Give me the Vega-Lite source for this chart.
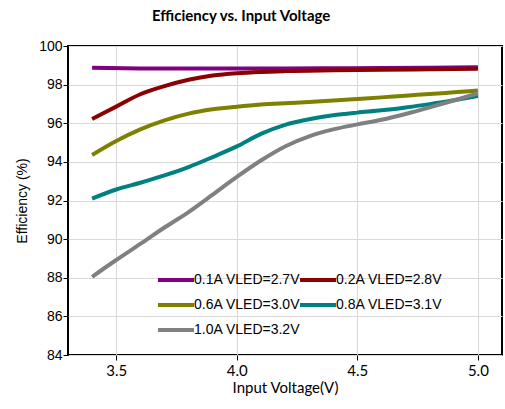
{
  "$schema": "https://vega.github.io/schema/vega-lite/v6.json",
  "width": 434,
  "height": 309,
  "autosize": {"type": "none"},
  "padding": {"left": 68, "top": 46, "right": 3, "bottom": 54},
  "background": "white",
  "title": {"text": "Efficiency vs. Input Voltage", "font": "Lato", "fontSize": 15, "fontWeight": "bold", "color": "black", "anchor": "start", "frame": "group", "dx": 84, "offset": 15},
  "config": {
    "view": {"stroke": "black", "strokeWidth": 2},
    "axis": {"domain": false, "gridColor": "#d9d9d9", "gridWidth": 1, "tickColor": "black", "tickSize": 5, "labelColor": "black", "titleColor": "black", "titleFontWeight": "normal"}
  },
  "data": {"values": [
    {"v": 3.4, "e": 98.87, "s": "0.1A VLED=2.7V"},
    {"v": 3.6, "e": 98.84, "s": "0.1A VLED=2.7V"},
    {"v": 3.8, "e": 98.83, "s": "0.1A VLED=2.7V"},
    {"v": 4.0, "e": 98.83, "s": "0.1A VLED=2.7V"},
    {"v": 4.2, "e": 98.84, "s": "0.1A VLED=2.7V"},
    {"v": 4.4, "e": 98.85, "s": "0.1A VLED=2.7V"},
    {"v": 4.6, "e": 98.86, "s": "0.1A VLED=2.7V"},
    {"v": 4.8, "e": 98.88, "s": "0.1A VLED=2.7V"},
    {"v": 5.0, "e": 98.9, "s": "0.1A VLED=2.7V"},
    {"v": 3.4, "e": 96.22, "s": "0.2A VLED=2.8V"},
    {"v": 3.5, "e": 96.86, "s": "0.2A VLED=2.8V"},
    {"v": 3.6, "e": 97.5, "s": "0.2A VLED=2.8V"},
    {"v": 3.7, "e": 97.92, "s": "0.2A VLED=2.8V"},
    {"v": 3.8, "e": 98.25, "s": "0.2A VLED=2.8V"},
    {"v": 3.9, "e": 98.47, "s": "0.2A VLED=2.8V"},
    {"v": 4.0, "e": 98.59, "s": "0.2A VLED=2.8V"},
    {"v": 4.1, "e": 98.66, "s": "0.2A VLED=2.8V"},
    {"v": 4.2, "e": 98.7, "s": "0.2A VLED=2.8V"},
    {"v": 4.4, "e": 98.74, "s": "0.2A VLED=2.8V"},
    {"v": 4.6, "e": 98.77, "s": "0.2A VLED=2.8V"},
    {"v": 4.8, "e": 98.79, "s": "0.2A VLED=2.8V"},
    {"v": 5.0, "e": 98.82, "s": "0.2A VLED=2.8V"},
    {"v": 3.4, "e": 94.36, "s": "0.6A VLED=3.0V"},
    {"v": 3.5, "e": 95.08, "s": "0.6A VLED=3.0V"},
    {"v": 3.6, "e": 95.68, "s": "0.6A VLED=3.0V"},
    {"v": 3.7, "e": 96.15, "s": "0.6A VLED=3.0V"},
    {"v": 3.8, "e": 96.5, "s": "0.6A VLED=3.0V"},
    {"v": 3.9, "e": 96.72, "s": "0.6A VLED=3.0V"},
    {"v": 4.0, "e": 96.86, "s": "0.6A VLED=3.0V"},
    {"v": 4.1, "e": 96.97, "s": "0.6A VLED=3.0V"},
    {"v": 4.2, "e": 97.04, "s": "0.6A VLED=3.0V"},
    {"v": 4.3, "e": 97.1, "s": "0.6A VLED=3.0V"},
    {"v": 4.4, "e": 97.18, "s": "0.6A VLED=3.0V"},
    {"v": 4.5, "e": 97.26, "s": "0.6A VLED=3.0V"},
    {"v": 4.6, "e": 97.34, "s": "0.6A VLED=3.0V"},
    {"v": 4.7, "e": 97.43, "s": "0.6A VLED=3.0V"},
    {"v": 4.8, "e": 97.51, "s": "0.6A VLED=3.0V"},
    {"v": 4.9, "e": 97.6, "s": "0.6A VLED=3.0V"},
    {"v": 5.0, "e": 97.69, "s": "0.6A VLED=3.0V"},
    {"v": 3.4, "e": 92.1, "s": "0.8A VLED=3.1V"},
    {"v": 3.5, "e": 92.57, "s": "0.8A VLED=3.1V"},
    {"v": 3.6, "e": 92.92, "s": "0.8A VLED=3.1V"},
    {"v": 3.7, "e": 93.3, "s": "0.8A VLED=3.1V"},
    {"v": 3.8, "e": 93.73, "s": "0.8A VLED=3.1V"},
    {"v": 3.9, "e": 94.25, "s": "0.8A VLED=3.1V"},
    {"v": 4.0, "e": 94.8, "s": "0.8A VLED=3.1V"},
    {"v": 4.1, "e": 95.45, "s": "0.8A VLED=3.1V"},
    {"v": 4.2, "e": 95.92, "s": "0.8A VLED=3.1V"},
    {"v": 4.3, "e": 96.21, "s": "0.8A VLED=3.1V"},
    {"v": 4.4, "e": 96.41, "s": "0.8A VLED=3.1V"},
    {"v": 4.5, "e": 96.55, "s": "0.8A VLED=3.1V"},
    {"v": 4.6, "e": 96.67, "s": "0.8A VLED=3.1V"},
    {"v": 4.7, "e": 96.82, "s": "0.8A VLED=3.1V"},
    {"v": 4.8, "e": 96.99, "s": "0.8A VLED=3.1V"},
    {"v": 4.9, "e": 97.19, "s": "0.8A VLED=3.1V"},
    {"v": 5.0, "e": 97.41, "s": "0.8A VLED=3.1V"},
    {"v": 3.4, "e": 88.05, "s": "1.0A VLED=3.2V"},
    {"v": 3.5, "e": 88.92, "s": "1.0A VLED=3.2V"},
    {"v": 3.6, "e": 89.75, "s": "1.0A VLED=3.2V"},
    {"v": 3.7, "e": 90.6, "s": "1.0A VLED=3.2V"},
    {"v": 3.8, "e": 91.4, "s": "1.0A VLED=3.2V"},
    {"v": 3.9, "e": 92.3, "s": "1.0A VLED=3.2V"},
    {"v": 4.0, "e": 93.22, "s": "1.0A VLED=3.2V"},
    {"v": 4.1, "e": 94.07, "s": "1.0A VLED=3.2V"},
    {"v": 4.2, "e": 94.8, "s": "1.0A VLED=3.2V"},
    {"v": 4.3, "e": 95.32, "s": "1.0A VLED=3.2V"},
    {"v": 4.4, "e": 95.68, "s": "1.0A VLED=3.2V"},
    {"v": 4.5, "e": 95.94, "s": "1.0A VLED=3.2V"},
    {"v": 4.6, "e": 96.18, "s": "1.0A VLED=3.2V"},
    {"v": 4.7, "e": 96.48, "s": "1.0A VLED=3.2V"},
    {"v": 4.8, "e": 96.82, "s": "1.0A VLED=3.2V"},
    {"v": 4.9, "e": 97.18, "s": "1.0A VLED=3.2V"},
    {"v": 5.0, "e": 97.55, "s": "1.0A VLED=3.2V"}
  ]},
  "mark": {"type": "line", "strokeWidth": 4, "interpolate": "monotone", "strokeCap": "butt"},
  "encoding": {
    "x": {"field": "v", "type": "quantitative", "scale": {"domain": [3.3, 5.1], "nice": false, "zero": false},
      "axis": {"values": [3.5, 4.0, 4.5, 5.0], "format": ".1f", "title": "Input Voltage(V)", "labelFont": "Lato", "labelFontSize": 15, "labelPadding": 3, "titleFont": "Lato", "titleFontSize": 15, "titlePadding": 2}},
    "y": {"field": "e", "type": "quantitative", "scale": {"domain": [84, 100], "nice": false, "zero": false},
      "axis": {"values": [84, 86, 88, 90, 92, 94, 96, 98, 100], "title": "Efficiency (%)", "labelFont": "Liberation Sans", "labelFontSize": 14, "labelPadding": 1, "titleFont": "Liberation Sans", "titleFontSize": 14, "titlePadding": 9}},
    "color": {"field": "s", "type": "nominal",
      "scale": {"domain": ["0.1A VLED=2.7V", "0.2A VLED=2.8V", "0.6A VLED=3.0V", "0.8A VLED=3.1V", "1.0A VLED=3.2V"], "range": ["#800080", "#8b0000", "#808000", "#008080", "#808080"]},
      "legend": {"title": null, "orient": "none", "legendX": 100, "legendY": 226, "columns": 2, "direction": "horizontal", "symbolType": "M-3,0H3", "symbolSize": 144, "symbolStrokeWidth": 4, "labelFont": "Liberation Sans", "labelFontSize": 14, "labelColor": "black", "rowPadding": 9, "columnPadding": -9, "labelOffset": 10}}
  }
}
